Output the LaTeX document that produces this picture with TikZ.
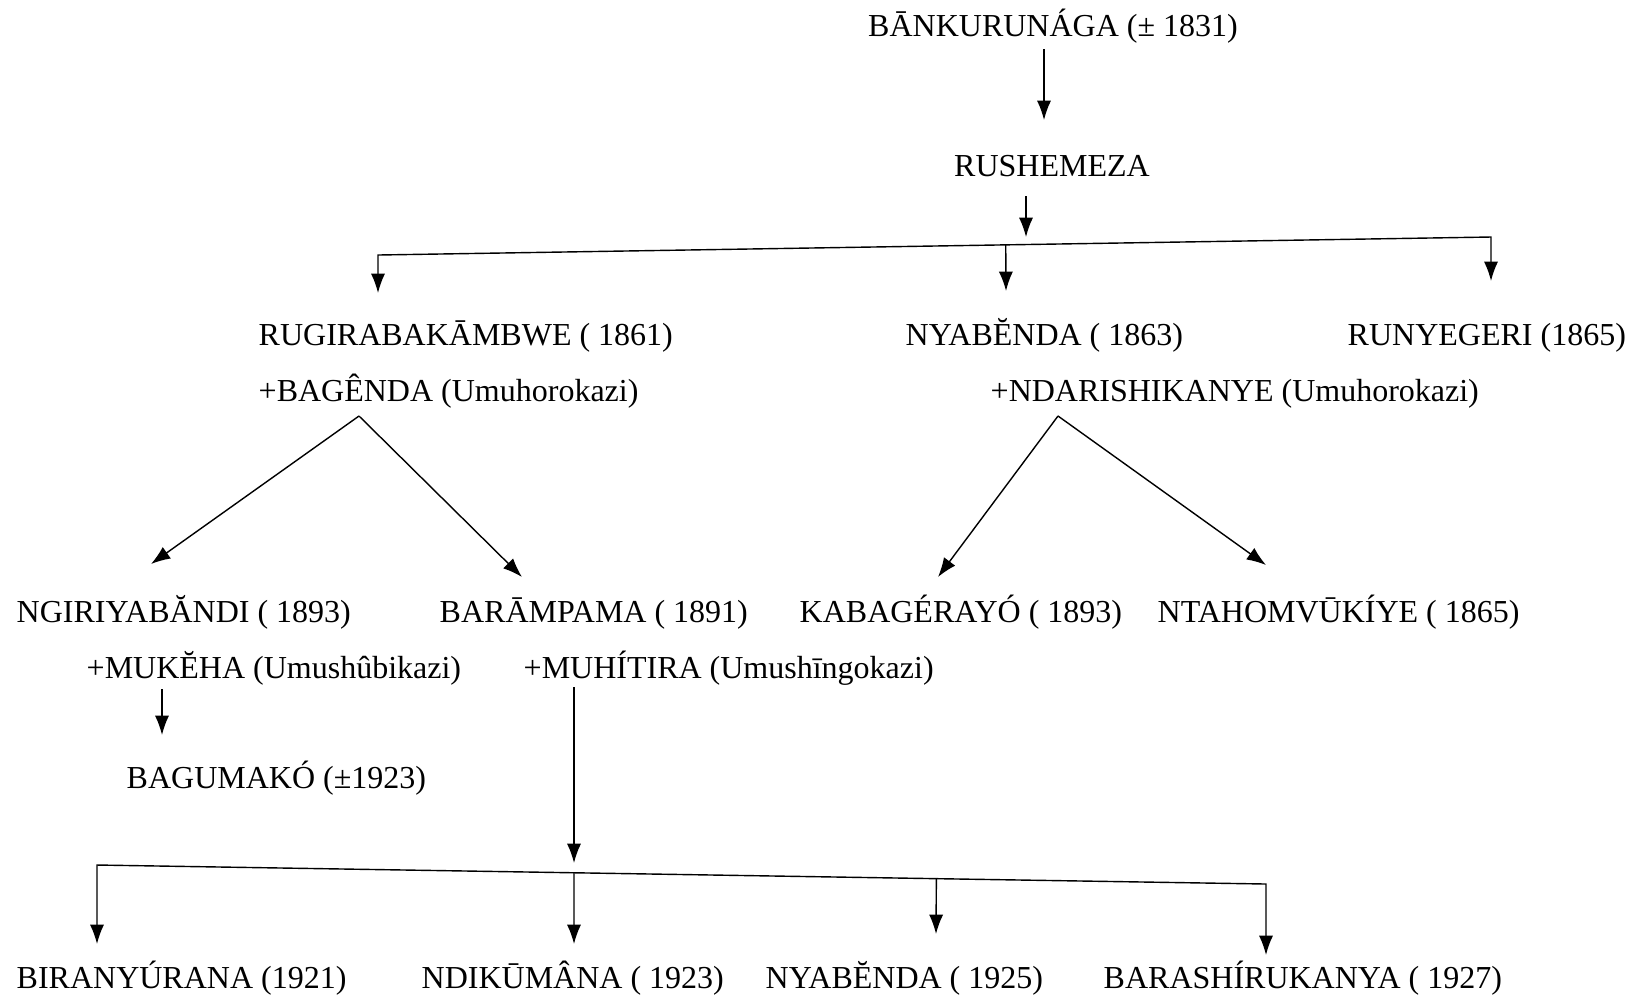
\documentclass[tikz,border=0pt]{standalone}
\usepackage{fontspec}
\setmainfont{Liberation Serif}
\usetikzlibrary{arrows.meta,calc}
\tikzset{>={Latex[length=5.5pt,width=4pt]}}
\tikzset{member/.style={anchor=base west,inner sep=0pt,font=\fontsize{9.1}{11}\selectfont}}

\begin{document}
\begin{tikzpicture}[x=0.01cm,y=-0.01cm]
  \useasboundingbox (0,0) rectangle (1631,996);

  % generation 1 and 2
  \node[member,anchor=base] (bankuru) at (1053,36) {BĀNKURUNÁGA (± 1831)};
  \node[member,anchor=base] (rushem) at (1052,176) {RUSHEMEZA};

  % generation 3
  \node[member] (rugira) at (258,345) {RUGIRABAKĀMBWE ( 1861)};
  \node[member] (bagenda) at (258,401) {+BAGÊNDA (Umuhorokazi)};
  \node[member] (nyabenda) at (905,345) {NYABĔNDA ( 1863)};
  \node[member] (ndarish) at (990,401) {+NDARISHIKANYE (Umuhorokazi)};
  \node[member] (runyeg) at (1347,345) {RUNYEGERI (1865)};

  % generation 4
  \node[member] (ngiri) at (16,622) {NGIRIYABĂNDI ( 1893)};
  \node[member] (mukeha) at (86,678) {+MUKĔHA (Umushûbikazi)};
  \node[member] (barampa) at (439,622) {BARĀMPAMA ( 1891)};
  \node[member] (muhiti) at (523,678) {+MUHÍTIRA (Umushīngokazi)};
  \node[member] (kabage) at (799,622) {KABAGÉRAYÓ ( 1893)};
  \node[member] (ntahom) at (1157,622) {NTAHOMVŪKÍYE ( 1865)};

  % generation 5
  \node[member] (bagum) at (126,788) {BAGUMAKÓ (±1923)};
  \node[member] (birany) at (16,988) {BIRANYÚRANA (1921)};
  \node[member] (ndiku) at (421,988) {NDIKŪMÂNA ( 1923)};
  \node[member] (nyaben2) at (765,988) {NYABĔNDA ( 1925)};
  \node[member] (barash) at (1103,988) {BARASHÍRUKANYA ( 1927)};

  % junctions
  \coordinate (barAL) at (378,255);
  \coordinate (barAR) at (1491,237);
  \coordinate (apexL) at (359,416);
  \coordinate (apexR) at (1058,416);
  \coordinate (barBL) at (97,865);
  \coordinate (barBR) at (1266,884);

  % arrows
  \draw[->] (1044,49) -- (1044,120);
  \draw[->] (1026,196) -- (1026,237);
  \draw[<->] (378,293) -- (barAL) -- (barAR) -- (1491,281);
  \draw[->] ($(barAL)!0.564!(barAR)$) -- (1006,291);

  \draw[->] (apexL) -- (151,564);
  \draw[->] (apexL) -- (522,577);
  \draw[->] (apexR) -- (938,577);
  \draw[->] (apexR) -- (1266,565);

  \draw[->] (162,689) -- (162,735);
  \draw[->] (574,687) -- (574,863);
  \draw[<->] (97,944) -- (barBL) -- (barBR) -- (1266,955);
  \draw[->] ($(barBL)!0.408!(barBR)$) -- (574,944);
  \draw[->] ($(barBL)!0.718!(barBR)$) -- (936,934);

\end{tikzpicture}
\end{document}
